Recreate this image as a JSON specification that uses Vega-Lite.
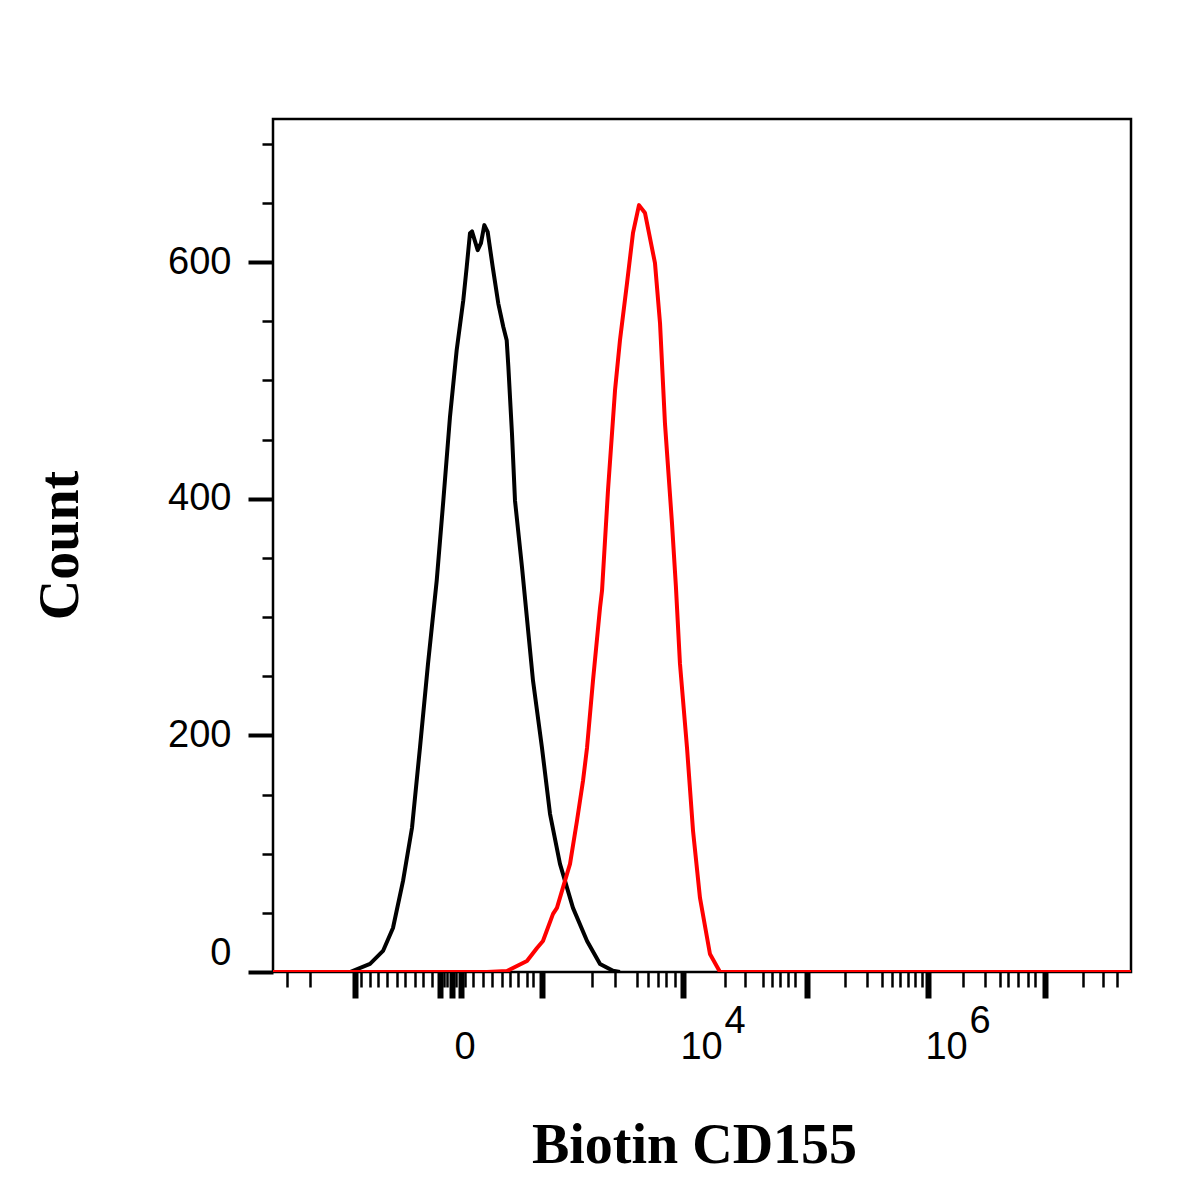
{
  "$schema": "https://vega.github.io/schema/vega-lite/v6.json",
  "width": 858,
  "height": 853,
  "autosize": {"type": "none"},
  "padding": {"left": 273, "top": 119, "right": 69, "bottom": 228},
  "background": "white",
  "data": {
    "values": [
      {"sample": "Isotype control", "channel": 91.9, "count": 0},
      {"sample": "Isotype control", "channel": 115.8, "count": 6.8},
      {"sample": "Isotype control", "channel": 131.3, "count": 17.8},
      {"sample": "Isotype control", "channel": 143.2, "count": 37.2},
      {"sample": "Isotype control", "channel": 155.2, "count": 77},
      {"sample": "Isotype control", "channel": 165.9, "count": 121.9},
      {"sample": "Isotype control", "channel": 175.4, "count": 189.6},
      {"sample": "Isotype control", "channel": 185.0, "count": 260.6},
      {"sample": "Isotype control", "channel": 195.4, "count": 330.9},
      {"sample": "Isotype control", "channel": 203.3, "count": 398.6},
      {"sample": "Isotype control", "channel": 211.2, "count": 469},
      {"sample": "Isotype control", "channel": 219.2, "count": 525.5},
      {"sample": "Isotype control", "channel": 227.1, "count": 567.8},
      {"sample": "Isotype control", "channel": 231.2, "count": 596},
      {"sample": "Isotype control", "channel": 235.1, "count": 624.5},
      {"sample": "Isotype control", "channel": 237.5, "count": 626},
      {"sample": "Isotype control", "channel": 244.3, "count": 610.1},
      {"sample": "Isotype control", "channel": 248.2, "count": 616.1},
      {"sample": "Isotype control", "channel": 252.2, "count": 631.3},
      {"sample": "Isotype control", "channel": 256.2, "count": 625.6},
      {"sample": "Isotype control", "channel": 262.2, "count": 596},
      {"sample": "Isotype control", "channel": 268.9, "count": 565},
      {"sample": "Isotype control", "channel": 274.9, "count": 545.2},
      {"sample": "Isotype control", "channel": 278.9, "count": 534},
      {"sample": "Isotype control", "channel": 280.9, "count": 511.4},
      {"sample": "Isotype control", "channel": 285.2, "count": 455.3},
      {"sample": "Isotype control", "channel": 288.8, "count": 398.6},
      {"sample": "Isotype control", "channel": 297.2, "count": 341.9},
      {"sample": "Isotype control", "channel": 310.3, "count": 246.3},
      {"sample": "Isotype control", "channel": 321.0, "count": 189.6},
      {"sample": "Isotype control", "channel": 330.6, "count": 133.7},
      {"sample": "Isotype control", "channel": 342.5, "count": 91.4},
      {"sample": "Isotype control", "channel": 358.0, "count": 54.2},
      {"sample": "Isotype control", "channel": 374.8, "count": 26.2},
      {"sample": "Isotype control", "channel": 390.3, "count": 6.8},
      {"sample": "Isotype control", "channel": 405.8, "count": 1},
      {"sample": "Isotype control", "channel": 414.1, "count": 0},
      {"sample": "Biotin CD155", "channel": 0, "count": 0},
      {"sample": "Biotin CD155", "channel": 255.4, "count": 0},
      {"sample": "Biotin CD155", "channel": 279.3, "count": 0.8},
      {"sample": "Biotin CD155", "channel": 286.4, "count": 3.4},
      {"sample": "Biotin CD155", "channel": 303.1, "count": 9.3},
      {"sample": "Biotin CD155", "channel": 315.1, "count": 20.3},
      {"sample": "Biotin CD155", "channel": 322.2, "count": 26.2},
      {"sample": "Biotin CD155", "channel": 334.2, "count": 49.1},
      {"sample": "Biotin CD155", "channel": 338.9, "count": 54.2},
      {"sample": "Biotin CD155", "channel": 350.9, "count": 82.9},
      {"sample": "Biotin CD155", "channel": 354.5, "count": 91.4},
      {"sample": "Biotin CD155", "channel": 362.8, "count": 127.8},
      {"sample": "Biotin CD155", "channel": 370.0, "count": 161.6},
      {"sample": "Biotin CD155", "channel": 374.8, "count": 189.6},
      {"sample": "Biotin CD155", "channel": 381.9, "count": 246.3},
      {"sample": "Biotin CD155", "channel": 390.3, "count": 308},
      {"sample": "Biotin CD155", "channel": 392.7, "count": 322.4},
      {"sample": "Biotin CD155", "channel": 399.8, "count": 407},
      {"sample": "Biotin CD155", "channel": 408.2, "count": 491.7},
      {"sample": "Biotin CD155", "channel": 414.1, "count": 534},
      {"sample": "Biotin CD155", "channel": 422.5, "count": 582.2},
      {"sample": "Biotin CD155", "channel": 429.6, "count": 624.5},
      {"sample": "Biotin CD155", "channel": 436.8, "count": 648.2},
      {"sample": "Biotin CD155", "channel": 444.0, "count": 641.5},
      {"sample": "Biotin CD155", "channel": 455.9, "count": 599.1},
      {"sample": "Biotin CD155", "channel": 461.9, "count": 548.4},
      {"sample": "Biotin CD155", "channel": 467.8, "count": 463.7},
      {"sample": "Biotin CD155", "channel": 476.2, "count": 379.1},
      {"sample": "Biotin CD155", "channel": 480.8, "count": 326.6},
      {"sample": "Biotin CD155", "channel": 485.7, "count": 260.6},
      {"sample": "Biotin CD155", "channel": 494.1, "count": 189.6},
      {"sample": "Biotin CD155", "channel": 501.3, "count": 119.3},
      {"sample": "Biotin CD155", "channel": 509.6, "count": 62.6},
      {"sample": "Biotin CD155", "channel": 521.5, "count": 15.2},
      {"sample": "Biotin CD155", "channel": 533.5, "count": 0},
      {"sample": "Biotin CD155", "channel": 1024, "count": 0}
    ]
  },
  "layer": [
    {
      "mark": {"type": "line", "strokeWidth": 4, "strokeJoin": "round", "clip": true},
      "encoding": {
        "x": {
          "field": "channel",
          "type": "quantitative",
          "scale": {"domain": [0, 1024], "nice": false, "zero": false},
          "axis": {
            "orient": "bottom",
            "values": [97.9, 199.3, 213.6, 224.4, 321.0, 489.3, 637.3, 781.7, 921.4],
            "labelExpr": "datum.value == 213.6 ? '0' : (datum.value == 489.3 || datum.value == 781.7) ? '10' : ''",
            "tickSize": 26,
            "tickWidth": 6,
            "tickColor": "#000000",
            "domain": false,
            "grid": false,
            "labelAlign": "left",
            "labelBaseline": "alphabetic",
            "labelPadding": 60,
            "labelOffset": {"condition": {"test": "datum.value == 213.6", "value": 2}, "value": -3},
            "labelOverlap": false,
            "labelBound": false,
            "labelFont": "Liberation Sans",
            "labelFontSize": 38,
            "labelColor": "#000000",
            "title": "Biotin CD155",
            "titleFont": "Liberation Serif",
            "titleFontWeight": "bold",
            "titleFontSize": 56,
            "titleColor": "#000000",
            "titleX": 421,
            "titleY": 190,
            "titleBaseline": "alphabetic"
          }
        },
        "y": {
          "field": "count",
          "type": "quantitative",
          "scale": {"domain": [0, 721], "nice": false},
          "axis": {
            "orient": "left",
            "values": [0, 200, 400, 600],
            "tickSize": 25,
            "tickWidth": 4,
            "tickColor": "#000000",
            "domain": false,
            "grid": false,
            "labelPadding": 17,
            "labelFlush": true,
            "labelFont": "Liberation Sans",
            "labelFontSize": 38,
            "labelColor": "#000000",
            "title": "Count",
            "titleFont": "Liberation Serif",
            "titleFontWeight": "bold",
            "titleFontSize": 56,
            "titleColor": "#000000",
            "titleX": -196,
            "titleY": 426,
            "titleBaseline": "alphabetic"
          }
        },
        "color": {
          "field": "sample",
          "type": "nominal",
          "scale": {"domain": ["Isotype control", "Biotin CD155"], "range": ["#000000", "#ff0000"]},
          "legend": null
        }
      }
    },
    {
      "mark": {"type": "line", "opacity": 0},
      "encoding": {
        "x": {
          "field": "channel",
          "type": "quantitative",
          "axis": {
            "orient": "bottom",
            "values": [16.7, 44.2, 105.0, 115.8, 125.3, 136.1, 148.0, 157.5, 169.5, 179.0, 189.8, 204.1, 207.7, 218.4, 229.1, 238.7, 250.6, 261.4, 273.3, 282.9, 292.4, 303.1, 310.3, 380.7, 408.2, 434.4, 447.5, 459.5, 469.0, 479.8, 539.4, 563.3, 584.8, 595.5, 605.1, 614.6, 623.0, 682.7, 708.9, 726.8, 738.7, 748.3, 757.9, 766.2, 774.6, 823.5, 849.7, 867.6, 877.2, 889.1, 901.1, 909.4, 966.7, 990.6, 1007.3],
            "labels": false,
            "tickSize": 15,
            "tickWidth": 2.5,
            "tickColor": "#000000",
            "domain": false,
            "grid": false,
            "title": null
          }
        },
        "y": {
          "field": "count",
          "type": "quantitative",
          "axis": {
            "orient": "left",
            "values": [50, 100, 150, 250, 300, 350, 450, 500, 550, 650, 700],
            "labels": false,
            "tickSize": 11,
            "tickWidth": 2.5,
            "tickColor": "#000000",
            "domain": false,
            "grid": false,
            "title": null
          }
        },
        "detail": {"field": "sample", "type": "nominal"}
      }
    },
    {
      "mark": {"type": "line", "opacity": 0},
      "encoding": {
        "x": {
          "field": "channel",
          "type": "quantitative",
          "axis": {
            "orient": "bottom",
            "values": [489.3, 781.7],
            "labelExpr": "datum.value > 600 ? '6' : '4'",
            "ticks": false,
            "domain": false,
            "grid": false,
            "labelAlign": "left",
            "labelBaseline": "alphabetic",
            "labelPadding": 60,
            "labelOffset": 41,
            "labelOverlap": false,
            "labelBound": false,
            "labelFont": "Liberation Sans",
            "labelFontSize": 38,
            "labelColor": "#000000",
            "title": null
          }
        },
        "y": {"field": "count", "type": "quantitative", "axis": null},
        "detail": {"field": "sample", "type": "nominal"}
      }
    }
  ],
  "resolve": {"axis": {"x": "independent", "y": "independent"}},
  "config": {
    "view": {"stroke": "#000000", "strokeWidth": 2.5},
    "axis": {"grid": false}
  }
}
